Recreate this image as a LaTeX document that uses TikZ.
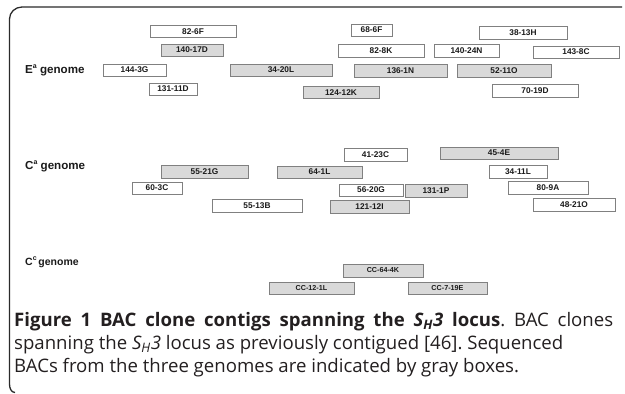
\documentclass[tikz,border=0pt]{standalone}
\usepackage{fontspec}
\setmainfont{Liberation Sans}
\newfontfamily\capfont{Open Sans}
\frenchspacing
\definecolor{boxedge}{HTML}{808080}
\definecolor{boxgray}{HTML}{D9D9D9}
\definecolor{txt}{HTML}{1A1A1A}
\definecolor{captxt}{HTML}{231F20}
\definecolor{frame}{HTML}{2A2A2A}
\tikzset{
  bac/.style={draw=boxedge, line width=0.8pt, inner sep=0pt, text=txt,
    font=\fontsize{8.3}{9}\selectfont\bfseries},
  wbox/.style={bac, fill=white},
  gbox/.style={bac, fill=boxgray},
  cbox/.style={gbox, font=\fontsize{7.2}{8}\selectfont\bfseries},
  glabel/.style={anchor=west, inner sep=0pt, text=txt, font=\fontsize{11.6}{12}\selectfont\bfseries},
  capline/.style={anchor=base west, inner sep=0pt, text=captxt, font=\capfont\fontsize{18.6}{22}\selectfont}
}
\newcommand{\bacbox}[7]{%
  \node[#7, minimum width=#4pt-#2pt, minimum height=#5pt-#3pt] (#1) at ({(#2+#4)/2},{(#3+#5)/2}) {#6};}
\newcommand{\supa}[1]{\raisebox{0.45em}{\fontsize{7}{7}\selectfont #1}}
\begin{document}
\begin{tikzpicture}[x=1pt,y=-1pt]
\useasboundingbox (0,0) rectangle (625,394);
% frame (bracket)
\draw[frame, line width=1.3pt] (622,7) -- (22,7) to[out=180,in=90] (9.5,19) -- (9.5,384) to[out=-90,in=180] (15,392.5);
% genome labels
\node[glabel] (ea) at (25,70) {E\supa{a} genome};
\node[glabel] (ca) at (25,166) {C\supa{a} genome};
\node[glabel, font=\fontsize{10.5}{11}\selectfont\bfseries] (cc) at (25,262) {C\supa{c}\,genome};
% E genome
\bacbox{b1}{150}{25.5}{236}{37.5}{82-6F}{wbox}
\bacbox{b2}{161}{44}{223}{56}{140-17D}{gbox}
\bacbox{b3}{103}{64}{166}{76}{144-3G}{wbox}
\bacbox{b4}{230}{64}{332}{76}{34-20L}{gbox}
\bacbox{b5}{149}{83}{197}{95}{131-11D}{wbox}
\bacbox{b6}{303}{86}{379}{98.5}{124-12K}{gbox}
\bacbox{b7}{351}{24}{392}{36}{68-6F}{wbox}
\bacbox{b8}{479}{26}{567}{39}{38-13H}{wbox}
\bacbox{b9}{338}{44}{424}{57}{82-8K}{wbox}
\bacbox{b10}{434}{44}{499}{57}{140-24N}{wbox}
\bacbox{b11}{533}{46}{619}{58}{143-8C}{wbox}
\bacbox{b12}{354}{64}{447}{77}{136-1N}{gbox}
\bacbox{b13}{457}{64}{551}{77}{52-11O}{gbox}
\bacbox{b14}{492}{84}{578}{97}{70-19D}{wbox}
% Ca genome
\bacbox{c1}{161}{165}{248}{178}{55-21G}{gbox}
\bacbox{c2}{277}{166}{362}{178}{64-1L}{gbox}
\bacbox{c3}{132}{182}{182}{194}{60-3C}{wbox}
\bacbox{c4}{212}{199}{302}{212}{55-13B}{wbox}
\bacbox{c5}{344}{148}{407}{161}{41-23C}{wbox}
\bacbox{c6}{440}{147}{558}{159}{45-4E}{gbox}
\bacbox{c7}{489}{165}{547}{178}{34-11L}{wbox}
\bacbox{c8}{339}{184}{403}{196}{56-20G}{wbox}
\bacbox{c9}{405}{184}{467}{197}{131-1P}{gbox}
\bacbox{c10}{508}{181}{588}{194}{80-9A}{wbox}
\bacbox{c11}{330}{200}{409}{213}{121-12I}{gbox}
\bacbox{c12}{533}{198}{615}{211}{48-21O}{wbox}
% Cc genome
\bacbox{d1}{343}{264}{423}{277}{CC-64-4K}{cbox}
\bacbox{d2}{269}{282}{354}{294}{CC-12-1L}{cbox}
\bacbox{d3}{408}{282}{487}{294}{CC-7-19E}{cbox}
% caption
\node[capline] (cap1) at (14,326) {\makebox[599pt][s]{\textbf{Figure 1 BAC clone contigs spanning the \textit{S\textsubscript{H}3} locus}. BAC clones}};
\node[capline] (cap2) at (14,349) {spanning the \textit{S\textsubscript{H}3} locus as previously contigued [46]. Sequenced};
\node[capline] (cap3) at (14,372) {BACs from the three genomes are indicated by gray boxes.};
\end{tikzpicture}
\end{document}
